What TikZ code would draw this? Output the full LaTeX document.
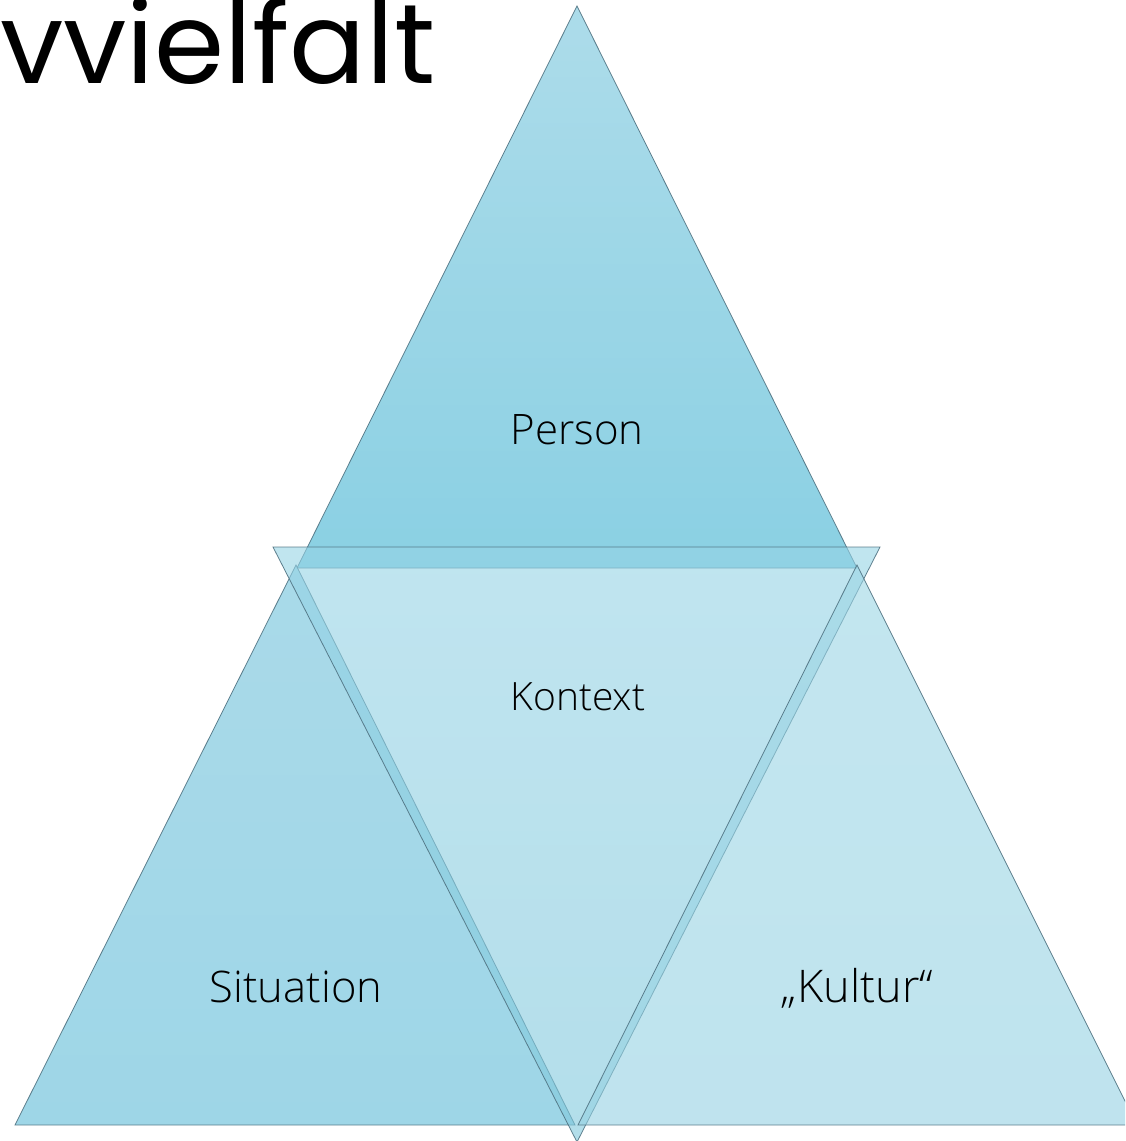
\documentclass[tikz,border=0pt]{standalone}
\usepackage{fontspec}
\newfontfamily\labfont{Open Sans Light}
\newfontfamily\titlefont{Poppins}
\definecolor{edge}{RGB}{80,115,130}
\definecolor{persTop}{RGB}{168,218,233}
\definecolor{persBot}{RGB}{132,206,226}
\definecolor{sitTop}{RGB}{160,214,231}
\definecolor{sitBot}{RGB}{148,210,228}
\definecolor{konTop}{RGB}{150,211,229}
\definecolor{konBot}{RGB}{128,200,220}
\definecolor{kulTop}{RGB}{155,213,229}
\definecolor{kulBot}{RGB}{148,209,226}
\tikzset{
  tri/.style={draw=edge, line width=0.8pt, line join=miter, draw opacity=0.9},
  lab/.style={font=\labfont\fontsize{42}{48}\selectfont, text=black, inner sep=0pt, anchor=base},
}
\begin{document}
\begin{tikzpicture}[x=1pt,y=-1pt]
\useasboundingbox (0,0) rectangle (1125,1141);
\clip (0,0) rectangle (1125,1141);
% coordinates
\coordinate (pA) at (577,6);
\coordinate (pL) at (297,568);
\coordinate (pR) at (857,568);
\coordinate (sA) at (296,565);
\coordinate (sL) at (15,1125);
\coordinate (sR) at (575,1125);
\coordinate (kA) at (857,565);
\coordinate (kL) at (578,1125);
\coordinate (kR) at (1137,1125);
\coordinate (cL) at (273,547);
\coordinate (cR) at (880,547);
\coordinate (cB) at (577,1142);
% Person
\path[tri, top color=persTop, bottom color=persBot, fill opacity=0.95] (pA) -- (pL) -- (pR) -- cycle;
% Situation
\path[tri, top color=sitTop, bottom color=sitBot, fill opacity=0.9] (sA) -- (sL) -- (sR) -- cycle;
% Kontext
\path[tri, top color=konTop, bottom color=konBot, fill opacity=0.6] (cL) -- (cR) -- (cB) -- cycle;
% Kultur
\path[tri, top color=kulTop, bottom color=kulBot, fill opacity=0.6] (kA) -- (kL) -- (kR) -- cycle;
% labels
\node[lab] (person) at (577,444) {Person};
\node[lab, font=\labfont\fontsize{39}{46}\selectfont] (kontext) at (578,710) {Kontext};
\node[lab, font=\labfont\fontsize{43.5}{50}\selectfont] (situation) at (296,1002) {Situation};
\node[lab, font=\labfont\fontsize{45}{52}\selectfont] (kultur) at (857,1002) {„Kultur“};
\node[font=\titlefont\fontsize{113}{120}\selectfont, inner sep=0pt, anchor=base west] (title) at (0,83) {vvielfalt};
\end{tikzpicture}
\end{document}
